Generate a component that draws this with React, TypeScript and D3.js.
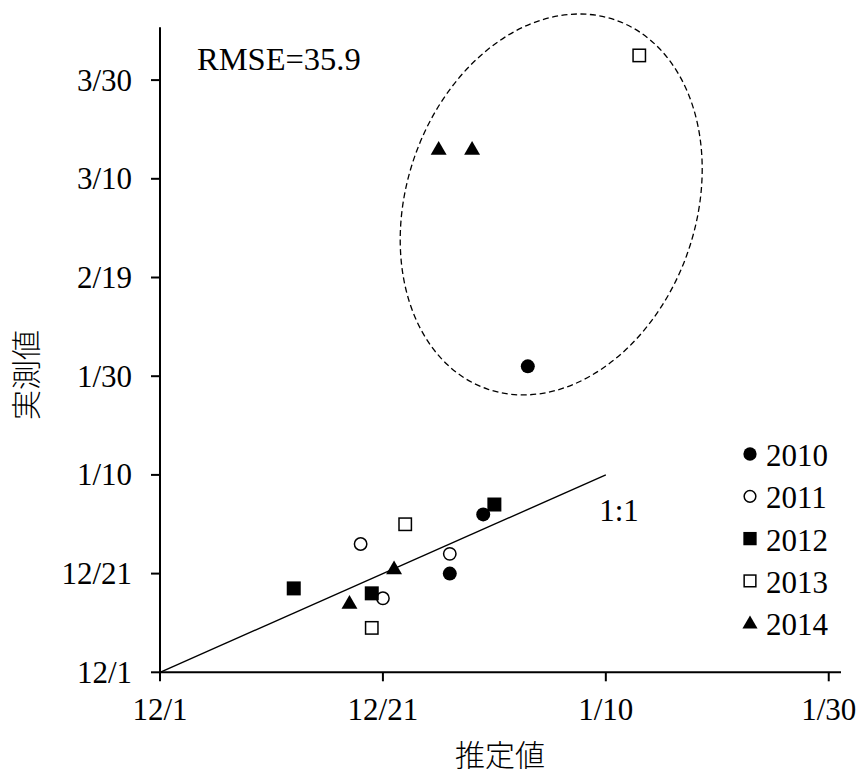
import React from "react";
import * as d3 from "d3";

// Days since 12/1 (estimated value, actual value)
const s2010x = [26, 29, 33];
const s2010y = [20, 32, 62];
const s2011x = [18, 20, 26];
const s2011y = [26, 15, 24];
const s2012x = [12, 19, 30];
const s2012y = [17, 16, 34];
const s2013x = [22, 19, 43];
const s2013y = [30, 9, 125];
const s2014x = [21, 17, 25, 28];
const s2014y = [21, 14, 106, 106];

const seriesNames = ["2010", "2011", "2012", "2013", "2014"];
const seriesShapes = ["circleFill", "circleOpen", "squareFill", "squareOpen", "triangle"];

const xTickValues = [0, 20, 40, 60];
const xTickLabels = ["12/1", "12/21", "1/10", "1/30"];
const yTickValues = [0, 20, 40, 60, 80, 100, 120];
const yTickLabels = ["12/1", "12/21", "1/10", "1/30", "2/19", "3/10", "3/30"];

const oneToOne = [0, 40];
const rmseText = "RMSE=35.9";
const ellipseCenter = [35.1, 94.8];

const W = 861;
const H = 778;
const left = 160;
const right = 841;
const bottom = 672.3;
const top = 27.3;

const serif = "'Liberation Serif', 'Times New Roman', serif";
const cjk = "'Noto Sans CJK JP', sans-serif";

function Marker({ shape, x, y, s = 1 }: { shape: string; x: number; y: number; s?: number }) {
  const r = 7 * s;
  if (shape === "circleFill") return <circle cx={x} cy={y} r={r} fill="#000" />;
  if (shape === "circleOpen")
    return <circle cx={x} cy={y} r={r - 0.8} fill="#fff" stroke="#000" strokeWidth={1.5} />;
  if (shape === "squareFill")
    return <rect x={x - r} y={y - r} width={2 * r} height={2 * r} fill="#000" />;
  if (shape === "squareOpen")
    return (
      <rect x={x - r + 0.8} y={y - r + 0.8} width={2 * r - 1.6} height={2 * r - 1.6} fill="#fff" stroke="#000" strokeWidth={1.5} />
    );
  const tri = d3.symbol(d3.symbolTriangle, 110 * s * s)();
  return <path d={tri || ""} transform={`translate(${x},${y + 1})`} fill="#000" />;
}

export default function App() {
  const x = d3.scaleLinear().domain([0, 61.1]).range([left, right]);
  const y = d3.scaleLinear().domain([0, 130.7]).range([bottom, top]);

  const series = [
    [s2010x, s2010y],
    [s2011x, s2011y],
    [s2012x, s2012y],
    [s2013x, s2013y],
    [s2014x, s2014y],
  ];

  const line = d3.line<number>().x((d) => x(d)).y((d) => y(d));

  return (
    <svg width={W} height={H} style={{ position: "absolute", left: 0, top: 0, background: "#fff" }}>
      <rect x={0} y={0} width={W} height={H} fill="#fff" />
      {/* ellipse */}
      <ellipse
        cx={0}
        cy={0}
        rx={144.7}
        ry={195.3}
        transform={`translate(${x(ellipseCenter[0])},${y(ellipseCenter[1])}) rotate(19.2)`}
        fill="none"
        stroke="#000"
        strokeWidth={1.3}
        strokeDasharray="6,3.5"
      />
      {/* 1:1 line */}
      <path d={line(oneToOne) || ""} stroke="#000" strokeWidth={1.4} fill="none" />
      <text x={x(39.4)} y={y(30.6)} fontFamily={serif} fontSize={31} fill="#000">
        1:1
      </text>
      {/* axes */}
      <line x1={left} x2={left} y1={top} y2={bottom + 1} stroke="#000" strokeWidth={2} />
      <line x1={left - 1} x2={right} y1={bottom} y2={bottom} stroke="#000" strokeWidth={2} />
      {xTickValues.map((v, i) => (
        <g key={"xt" + i}>
          <line x1={x(v)} x2={x(v)} y1={bottom} y2={bottom + 9} stroke="#000" strokeWidth={2} />
          <text x={x(v)} y={720} textAnchor="middle" fontFamily={serif} fontSize={31} fill="#000">
            {xTickLabels[i]}
          </text>
        </g>
      ))}
      {yTickValues.map((v, i) => (
        <g key={"yt" + i}>
          <line x1={left - 9} x2={left} y1={y(v)} y2={y(v)} stroke="#000" strokeWidth={2} />
          <text x={132} y={y(v) + 10.5} textAnchor="end" fontFamily={serif} fontSize={31} fill="#000">
            {yTickLabels[i]}
          </text>
        </g>
      ))}
      {/* axis titles */}
      <text x={500} y={766} textAnchor="middle" fontFamily={cjk} fontWeight={300} fontSize={30} fill="#000">
        推定値
      </text>
      <text
        transform={`translate(37,375) rotate(-90)`}
        textAnchor="middle"
        fontFamily={cjk}
        fontWeight={300}
        fontSize={30}
        fill="#000"
      >
        実測値
      </text>
      <text x={197} y={70} fontFamily={serif} fontSize={32.5} fill="#000">
        {rmseText}
      </text>
      {/* points */}
      {series.map(([xs, ys], si) =>
        xs.map((xv, j) => <Marker key={`p${si}-${j}`} shape={seriesShapes[si]} x={x(xv)} y={y(ys[j])} />)
      )}
      {/* legend */}
      {seriesNames.map((n, i) => (
        <g key={"lg" + i}>
          <Marker shape={seriesShapes[i]} x={750} y={454 + i * 42.3} s={0.95} />
          <text x={766} y={454 + i * 42.3 + 12} fontFamily={serif} fontSize={31} fill="#000">
            {n}
          </text>
        </g>
      ))}
    </svg>
  );
}
